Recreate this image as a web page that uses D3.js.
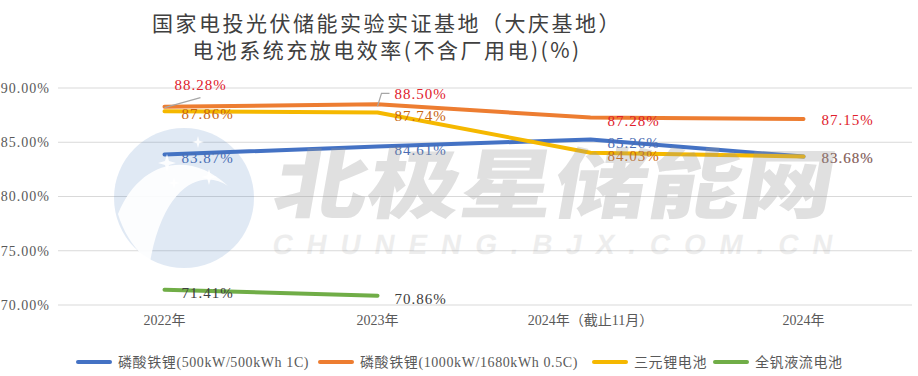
<!DOCTYPE html>
<html><head><meta charset="utf-8">
<script src="https://cdn.jsdelivr.net/npm/d3@7"></script>
<style>
html,body{margin:0;padding:0;background:#fff;}
svg{display:block;}
</style></head>
<body>
<svg id="chart" width="918" height="376"></svg>
<script>
const categories = ["2022年", "2023年", "2024年（截止11月）", "2024年"];
const seriesNames = ["磷酸铁锂(500kW/500kWh 1C)", "磷酸铁锂(1000kW/1680kWh 0.5C)", "三元锂电池", "全钒液流电池"];
const lfp1C = [83.87, 84.61, 85.26, 83.68];
const lfp05C = [88.28, 88.50, 87.28, 87.15];
const ncm = [87.86, 87.74, 84.03, 83.68];
const vrfb = [71.41, 70.86];
const yTicks = [70, 75, 80, 85, 90];
const titleLines = ["国家电投光伏储能实验实证基地（大庆基地）", "电池系统充放电效率(不含厂用电)(%)"];

const lineColors = ["#4472c4", "#ed7d31", "#f5b800", "#70ad47"];
const labelColors = ["#4a6cb3", "#e0202c", "#c9660f", "#404040"];
const allSeries = [lfp1C, lfp05C, ncm, vrfb];

const svg = d3.select("#chart");
const margin = {left: 58, right: 8, top: 88, bottom: 71};
const W = 918, H = 376;

const x = d3.scaleBand().domain(categories).range([margin.left, W - margin.right]);
const y = d3.scaleLinear().domain([70, 90]).range([H - margin.bottom, margin.top]);
const cx = c => x(c) + x.bandwidth() / 2;

// title
svg.append("g").selectAll("text").data(titleLines).join("text")
  .attr("x", 387).attr("y", (d, i) => 31 + i * 27)
  .attr("text-anchor", "middle")
  .style("font-family", "'Noto Sans CJK SC', sans-serif")
  .style("font-size", "21px").style("fill", "#404040").style("letter-spacing", "2.5px")
  .text(d => d);

// grid
svg.append("g").selectAll("line").data(yTicks).join("line")
  .attr("x1", margin.left).attr("x2", W - 6)
  .attr("y1", d => y(d)).attr("y2", d => y(d))
  .attr("stroke", "#d9d9d9").attr("stroke-width", 1);

// y axis labels
const yAxis = d3.axisLeft(y).tickValues(yTicks).tickSize(0).tickPadding(8)
  .tickFormat(d => d.toFixed(2) + "%");
const gy = svg.append("g").attr("transform", `translate(${margin.left},0)`).call(yAxis);
gy.select(".domain").remove();
gy.selectAll("text").style("font-family", "'Liberation Serif', serif").style("font-size", "14px")
  .style("fill", "#595959").style("letter-spacing", "1px");

// x axis labels
const xAxis = d3.axisBottom(x).tickSize(0).tickPadding(10);
const gx = svg.append("g").attr("transform", `translate(0,${H - margin.bottom})`).call(xAxis);
gx.select(".domain").remove();
gx.selectAll("text").style("font-family", "'Liberation Serif', 'Noto Sans CJK SC', serif").style("font-size", "14px")
  .style("fill", "#595959");

// lines
const line = d3.line().x((d, i) => cx(categories[i])).y(d => y(d));
allSeries.forEach((s, k) => {
  svg.append("path").datum(s).attr("d", line)
    .attr("fill", "none").attr("stroke", lineColors[k]).attr("stroke-width", 4)
    .attr("stroke-linecap", "round").attr("stroke-linejoin", "round");
});

// labels
const labelG = svg.append("g");
allSeries.forEach((s, k) => {
  s.forEach((v, i) => {
    const px = cx(categories[i]), py = y(v);
    let lx = px + 17, ly = py + 3;
    if (k === 1 && i === 0) {
      lx = px + 10; ly = py - 22;
      labelG.append("line").attr("x1", px).attr("y1", py + 1).attr("x2", px + 36).attr("y2", py - 9)
        .attr("stroke", "#a6a6a6").attr("stroke-width", 1.2);
    } else if (k === 1 && i === 1) {
      lx = px + 17; ly = py - 11;
      labelG.append("polyline").attr("points", `${px},${py + 2} ${px + 4},${py - 11} ${px + 12},${py - 11}`)
        .attr("fill", "none").attr("stroke", "#a6a6a6").attr("stroke-width", 1.2);
    } else if (i === 3) {
      lx = px + 18; ly = py + 1;
    }
    labelG.append("text").attr("x", lx).attr("y", ly).attr("dy", "0.35em")
      .style("font-family", "'Liberation Serif', serif").style("font-size", "15px")
      .style("letter-spacing", "1px")
      .style("fill", labelColors[k]).style("opacity", k === 2 && i === 3 ? 0.6 : 1)
      .text(v.toFixed(2) + "%");
  });
});

// watermark
const wm = svg.append("g").attr("pointer-events", "none");
wm.append("circle").attr("cx", 184).attr("cy", 198).attr("r", 70)
  .attr("fill", "#4a7ebb").attr("opacity", 0.17);
wm.append("path")
  .attr("d", "M118,214 C140,160 190,150 228,186 C205,170 165,180 150,262 C135,250 124,234 118,214 Z")
  .attr("fill", "#fff").attr("opacity", 0.9);
const star = (sx, sy, r) => `M${sx},${sy - r} L${sx + r * 0.22},${sy - r * 0.22} L${sx + r},${sy} L${sx + r * 0.22},${sy + r * 0.22} L${sx},${sy + r} L${sx - r * 0.22},${sy + r * 0.22} L${sx - r},${sy} L${sx - r * 0.22},${sy - r * 0.22} Z`;
[[167,163,9],[198,142,6],[209,177,8],[174,183,6]].forEach(s => {
  wm.append("path").attr("d", star(s[0], s[1], s[2])).attr("fill", "#fff").attr("opacity", 0.9);
});
wm.append("text").attr("x", 272).attr("y", 212)
  .attr("textLength", 560).attr("lengthAdjust", "spacingAndGlyphs")
  .attr("transform", "skewX(-10) translate(36,0)")
  .style("font-family", "'Noto Sans CJK SC', sans-serif").style("font-weight", 900)
  .style("font-size", "76px").style("fill", "#9a9a9a").style("opacity", 0.3)
  .text("北极星储能网");
wm.append("text").attr("x", 272).attr("y", 254)
  .attr("textLength", 560).attr("lengthAdjust", "spacing")
  .attr("transform", "skewX(-10) translate(44,0)")
  .style("font-family", "'Liberation Sans', sans-serif").style("font-weight", 700)
  .style("font-size", "28px").style("fill", "#9a9a9a").style("opacity", 0.17)
  .text("CHUNENG.BJX.COM.CN");

// legend
const legendX = [76, 318, 592, 713];
const lg = svg.append("g");
seriesNames.forEach((n, k) => {
  const g = lg.append("g").attr("transform", `translate(${legendX[k]},362)`);
  g.append("line").attr("x1", 2).attr("x2", 34).attr("y1", 0).attr("y2", 0)
    .attr("stroke", lineColors[k]).attr("stroke-width", 4).attr("stroke-linecap", "round");
  g.append("text").attr("x", 42).attr("y", 0).attr("dy", "0.35em")
    .style("font-family", "'Liberation Serif', 'Noto Sans CJK SC', serif").style("font-size", "14px")
    .style("letter-spacing", "0.6px")
    .style("fill", "#595959").text(n);
});
</script>
</body></html>
